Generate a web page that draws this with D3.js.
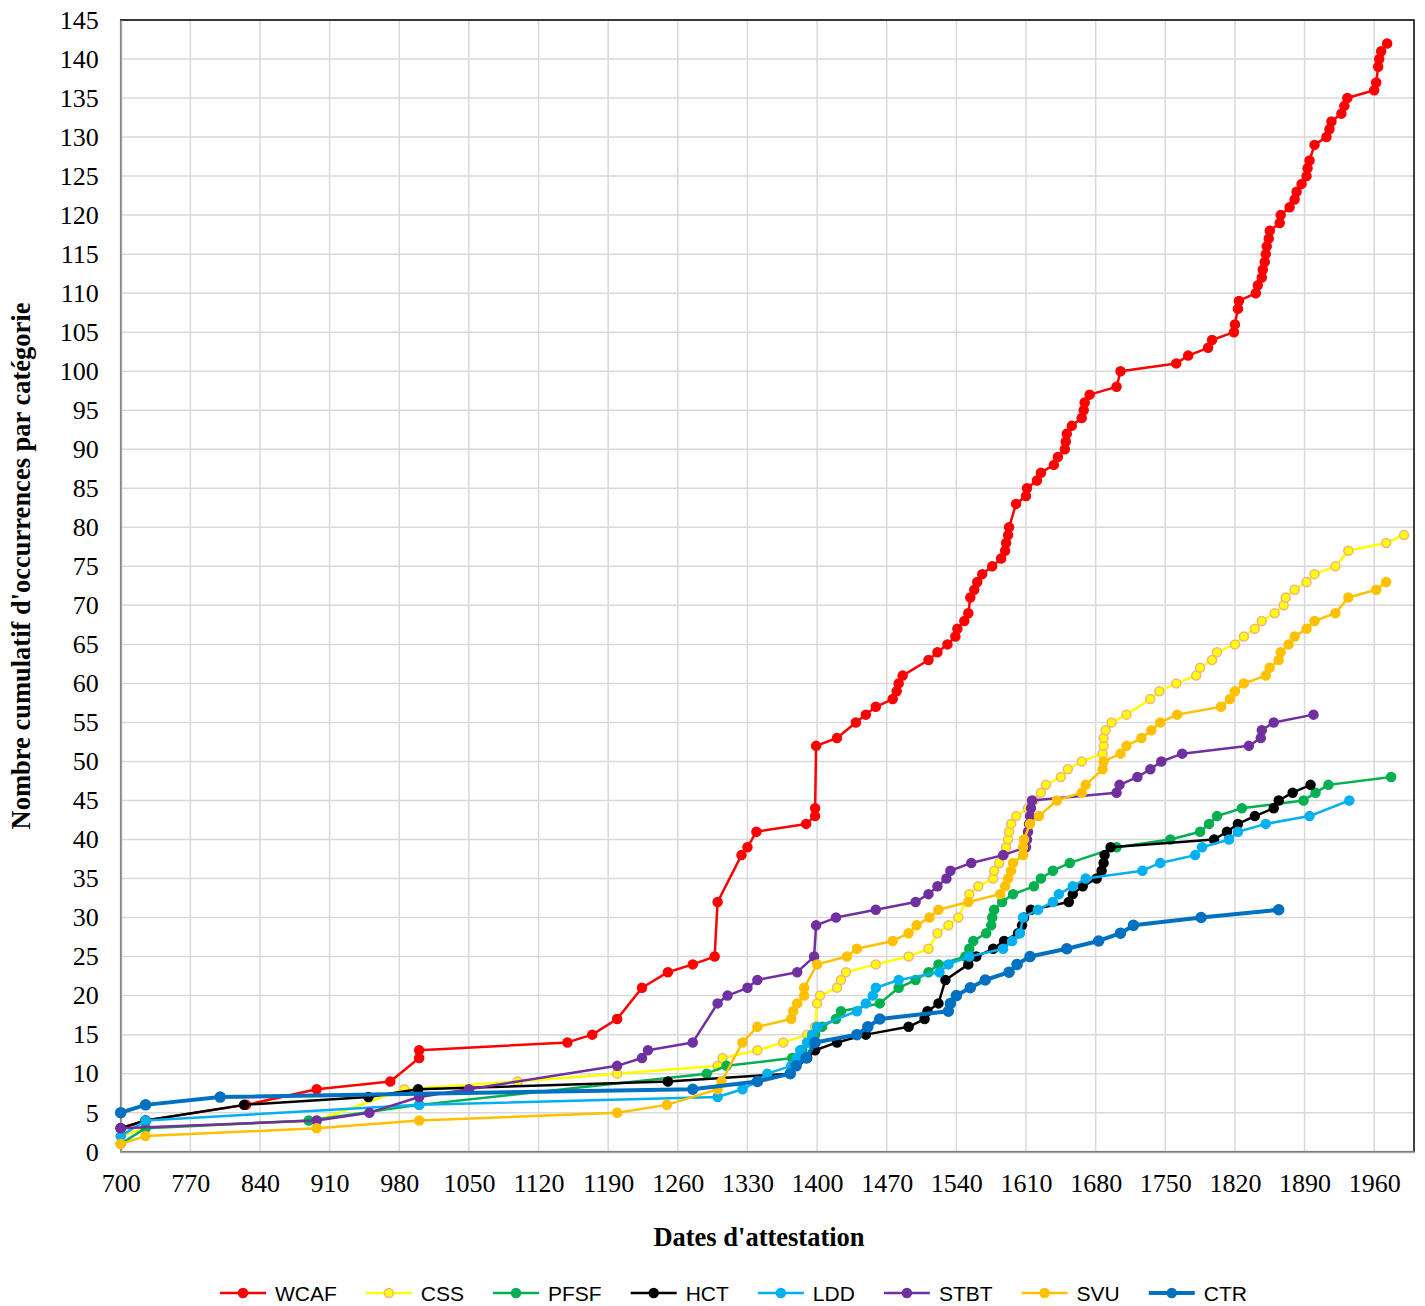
<!DOCTYPE html>
<html>
<head>
<meta charset="utf-8">
<script src="https://cdn.jsdelivr.net/npm/d3@7"></script>
<style>
  body { margin: 0; background: #fff; }
  svg { display: block; }
</style>
</head>
<body>
<script>
// series values: [date d'attestation, nombre cumulatif]
var wcaf = [[700,3],[725,4],[826,6],[897,8],[971,9],[1000,12],[1000,13],[1149,14],[1174,15],[1199,17],[1224,21],[1250,23],[1275,24],[1297,25],[1300,32],[1324,38],[1330,39],[1339,41],[1389,42],[1398,43],[1398,44],[1399,52],[1420,53],[1439,55],[1449,56],[1459,57],[1476,58],[1480,59],[1482,60],[1486,61],[1512,63],[1521,64],[1531,65],[1539,66],[1541,67],[1548,68],[1552,69],[1554,71],[1558,72],[1561,73],[1566,74],[1576,75],[1585,76],[1589,77],[1590,78],[1592,79],[1593,80],[1600,83],[1610,84],[1611,85],[1621,86],[1625,87],[1638,88],[1642,89],[1649,90],[1650,91],[1651,92],[1656,93],[1666,94],[1668,95],[1669,96],[1674,97],[1701,98],[1705,100],[1761,101],[1773,102],[1793,103],[1797,104],[1819,105],[1820,106],[1823,108],[1824,109],[1841,110],[1843,111],[1847,112],[1848,113],[1850,114],[1851,115],[1852,116],[1854,117],[1855,118],[1865,119],[1866,120],[1875,121],[1880,122],[1882,123],[1887,124],[1892,125],[1893,126],[1895,127],[1900,129],[1912,130],[1915,131],[1917,132],[1927,133],[1930,134],[1933,135],[1960,136],[1962,137],[1964,139],[1965,140],[1967,141],[1973,142]];
var css = [[700,2],[725,3],[897,4],[985,8],[1099,9],[1199,10],[1300,11],[1305,12],[1340,13],[1366,14],[1390,15],[1398,16],[1400,19],[1403,20],[1420,21],[1424,22],[1429,23],[1459,24],[1492,25],[1512,26],[1521,28],[1532,29],[1542,30],[1553,33],[1562,34],[1577,35],[1578,36],[1583,37],[1588,38],[1590,39],[1592,40],[1593,41],[1595,42],[1600,43],[1612,44],[1618,45],[1625,46],[1630,47],[1645,48],[1652,49],[1666,50],[1687,51],[1688,52],[1688,53],[1690,54],[1696,55],[1711,56],[1735,58],[1744,59],[1761,60],[1781,61],[1785,62],[1797,63],[1802,64],[1820,65],[1829,66],[1840,67],[1847,68],[1860,69],[1869,70],[1871,71],[1880,72],[1892,73],[1900,74],[1921,75],[1934,77],[1972,78],[1990,79]];
var pfsf = [[700,1],[725,3],[889,4],[1000,6],[1289,10],[1309,11],[1375,12],[1385,13],[1392,14],[1398,15],[1405,16],[1419,17],[1424,18],[1463,19],[1482,21],[1499,22],[1512,23],[1522,24],[1549,25],[1553,26],[1557,27],[1570,28],[1575,29],[1576,30],[1578,31],[1586,32],[1597,33],[1618,34],[1625,35],[1637,36],[1654,37],[1701,39],[1755,40],[1785,41],[1794,42],[1802,43],[1827,44],[1889,45],[1901,46],[1914,47],[1977,48]];
var hct = [[700,3],[725,4],[824,6],[949,7],[999,8],[1250,9],[1373,10],[1390,12],[1398,13],[1420,14],[1449,15],[1492,16],[1508,17],[1511,18],[1522,19],[1529,22],[1552,24],[1560,25],[1577,26],[1588,27],[1602,28],[1606,29],[1608,30],[1615,31],[1653,32],[1657,33],[1667,34],[1681,35],[1686,36],[1688,37],[1689,38],[1695,39],[1799,40],[1812,41],[1823,42],[1840,43],[1859,44],[1864,45],[1878,46],[1896,47]];
var ldd = [[700,2],[725,4],[1000,6],[1300,7],[1325,8],[1340,9],[1350,10],[1374,11],[1380,12],[1383,13],[1390,14],[1395,15],[1400,16],[1440,18],[1449,19],[1456,20],[1459,21],[1482,22],[1523,23],[1532,24],[1553,25],[1587,26],[1596,27],[1604,28],[1607,30],[1622,31],[1637,32],[1643,33],[1657,34],[1670,35],[1727,36],[1745,37],[1780,38],[1787,39],[1814,40],[1823,41],[1851,42],[1895,43],[1935,45]];
var stbt = [[700,3],[897,4],[950,5],[1000,7],[1050,8],[1199,11],[1224,12],[1230,13],[1275,14],[1300,19],[1310,20],[1330,21],[1340,22],[1380,23],[1397,25],[1399,29],[1419,30],[1459,31],[1499,32],[1512,33],[1521,34],[1530,35],[1534,36],[1555,37],[1587,38],[1610,39],[1611,40],[1612,41],[1613,42],[1614,43],[1615,44],[1616,45],[1701,46],[1704,47],[1722,48],[1735,49],[1746,50],[1767,51],[1834,52],[1846,53],[1847,54],[1859,55],[1899,56]];
var svu = [[700,1],[725,2],[897,3],[1000,4],[1199,5],[1249,6],[1300,8],[1304,9],[1325,14],[1340,16],[1374,17],[1376,18],[1380,19],[1387,20],[1387,21],[1400,24],[1430,25],[1440,26],[1476,27],[1492,28],[1500,29],[1513,30],[1522,31],[1552,32],[1584,33],[1589,34],[1592,35],[1595,36],[1597,37],[1607,38],[1607,39],[1608,40],[1614,42],[1623,43],[1641,45],[1666,46],[1670,47],[1687,49],[1688,50],[1705,51],[1711,52],[1726,53],[1736,54],[1745,55],[1762,56],[1806,57],[1815,58],[1820,59],[1829,60],[1851,61],[1855,62],[1864,63],[1866,64],[1874,65],[1880,66],[1892,67],[1900,68],[1921,69],[1934,71],[1962,72],[1972,73]];
var ctr = [[700,5],[725,6],[800,7],[1275,8],[1340,9],[1373,10],[1379,11],[1389,12],[1398,14],[1440,15],[1451,16],[1463,17],[1532,18],[1534,19],[1540,20],[1554,21],[1569,22],[1593,23],[1601,24],[1614,25],[1651,26],[1683,27],[1705,28],[1718,29],[1786,30],[1864,31]];

var seriesNames = ["WCAF", "CSS", "PFSF", "HCT", "LDD", "STBT", "SVU", "CTR"];
var seriesData = [wcaf, css, pfsf, hct, ldd, stbt, svu, ctr];
var xTicks = d3.range(700, 1961, 70);
var yTicks = d3.range(0, 146, 5);

// styles
var lineColors = ["#ff0000", "#ffff00", "#00b050", "#000000", "#00b0f0", "#7030a0", "#ffc000", "#0070c0"];
var markerStroke = ["#ff0000", "#f4b183", "#00b050", "#000000", "#00b0f0", "#7030a0", "#ffc000", "#0070c0"];
var lineWidths = [2.5, 2.5, 2.5, 2.5, 2.5, 2.5, 2.5, 4];

var width = 1425, height = 1306;
var plotLeft = 120.7, plotRight = 1414, plotTop = 20, plotBottom = 1151.7;
var serif = "'Liberation Serif', 'Times New Roman', serif";

var svg = d3.select("body").append("svg")
  .attr("width", width)
  .attr("height", height);

var x = d3.scaleLinear().domain([700, 2000]).range([plotLeft, plotRight]);
var y = d3.scaleLinear().domain([0, 145]).range([plotBottom, plotTop]);

// gridlines
svg.append("g").selectAll("line")
  .data(xTicks.slice(1))
  .enter().append("line")
  .attr("x1", d => x(d)).attr("x2", d => x(d))
  .attr("y1", plotTop).attr("y2", plotBottom)
  .attr("stroke", "#d9d9d9").attr("stroke-width", 1.5);
svg.append("g").selectAll("line")
  .data(yTicks.slice(1))
  .enter().append("line")
  .attr("x1", plotLeft).attr("x2", plotRight)
  .attr("y1", d => y(d)).attr("y2", d => y(d))
  .attr("stroke", "#d9d9d9").attr("stroke-width", 1.5);

// plot frame
svg.append("rect")
  .attr("x", plotLeft).attr("y", plotTop)
  .attr("width", plotRight - plotLeft).attr("height", plotBottom - plotTop)
  .attr("fill", "none").attr("stroke", "#000").attr("stroke-width", 1.5);

// axes
var xAxis = svg.append("g")
  .attr("transform", "translate(0," + plotBottom + ")")
  .call(d3.axisBottom(x).tickValues(xTicks).tickSize(0).tickPadding(22).tickFormat(d3.format("d")));
var yAxis = svg.append("g")
  .attr("transform", "translate(" + plotLeft + ",0)")
  .call(d3.axisLeft(y).tickValues(yTicks).tickSize(0).tickPadding(22).tickFormat(d3.format("d")));

[xAxis, yAxis].forEach(function(a) {
  a.select(".domain").attr("stroke", "#a6a6a6").attr("stroke-width", 2);
  a.selectAll("text")
    .attr("fill", "#000")
    .style("font-family", serif)
    .style("font-size", "26px");
});

// series
var line = d3.line().x(d => x(d[0])).y(d => y(d[1]));

seriesData.forEach(function(data, i) {
  var g = svg.append("g").attr("class", "series-" + seriesNames[i]);
  g.append("path")
    .datum(data)
    .attr("d", line)
    .attr("fill", "none")
    .attr("stroke", lineColors[i])
    .attr("stroke-width", lineWidths[i])
    .attr("stroke-linejoin", "round");
  g.selectAll("circle")
    .data(data)
    .enter().append("circle")
    .attr("cx", d => x(d[0]))
    .attr("cy", d => y(d[1]))
    .attr("r", i == 7 ? 5 : 4.5)
    .attr("fill", lineColors[i])
    .attr("stroke", markerStroke[i])
    .attr("stroke-width", 1.5);
});

// axis titles
svg.append("text")
  .attr("x", 759).attr("y", 1246)
  .attr("text-anchor", "middle")
  .style("font-family", serif)
  .style("font-weight", "bold")
  .style("font-size", "26.5px")
  .text("Dates d'attestation");

svg.append("text")
  .attr("transform", "translate(30,566) rotate(-90)")
  .attr("text-anchor", "middle")
  .style("font-family", serif)
  .style("font-weight", "bold")
  .style("font-size", "26.5px")
  .text("Nombre cumulatif d'occurrences par catégorie");

// legend
var legend = svg.append("g").attr("transform", "translate(220,1293)");
var lx = 0;
seriesNames.forEach(function(name, i) {
  var item = legend.append("g").attr("transform", "translate(" + lx + ",0)");
  item.append("line")
    .attr("x1", 0).attr("x2", 46).attr("y1", 0).attr("y2", 0)
    .attr("stroke", lineColors[i]).attr("stroke-width", lineWidths[i]);
  item.append("circle")
    .attr("cx", 23).attr("cy", 0).attr("r", 4.5)
    .attr("fill", lineColors[i]).attr("stroke", markerStroke[i]).attr("stroke-width", 1.5);
  var t = item.append("text")
    .attr("x", 55).attr("y", 8)
    .style("font-family", "'Liberation Sans', Arial, sans-serif")
    .style("font-size", "21px")
    .attr("fill", "#000")
    .text(name);
  lx += 55 + t.node().getComputedTextLength() + 29;
});
</script>
</body>
</html>
